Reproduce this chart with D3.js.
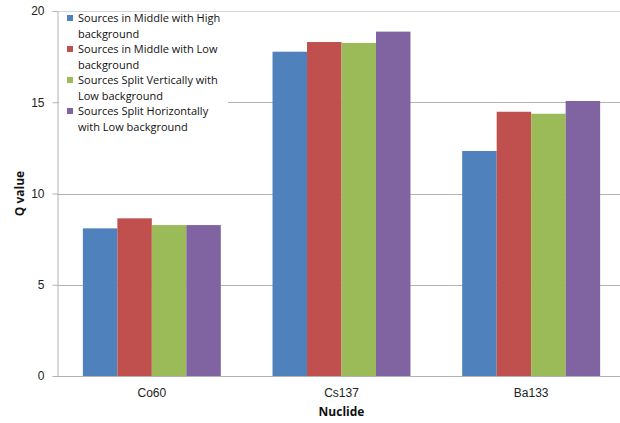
<!DOCTYPE html>
<html>
<head>
<meta charset="utf-8">
<script src="https://cdn.jsdelivr.net/npm/d3@7/dist/d3.min.js"></script>
<style>
  html, body { margin: 0; padding: 0; background: #fff; }
  svg { display: block; }
</style>
</head>
<body>
<svg id="chart" width="620" height="423"></svg>
<script>
// Nuclide categories and Q values for each measurement setup
const nuclides = ["Co60", "Cs137", "Ba133"];
const seriesNames = [
  ["Sources in Middle with High", "background"],
  ["Sources in Middle with Low", "background"],
  ["Sources Split Vertically with", "Low background"],
  ["Sources Split Horizontally", "with Low background"]
];
const middleHigh = [8.09, 17.77, 12.33];
const middleLow = [8.64, 18.30, 14.48];
const splitVertical = [8.27, 18.25, 14.37];
const splitHorizontal = [8.27, 18.87, 15.07];
const yTicks = [0, 5, 10, 15, 20];
const colors = ["#4F81BD", "#C0504D", "#9BBB59", "#8064A2"];

const seriesValues = [middleHigh, middleLow, splitVertical, splitHorizontal];

const svg = d3.select("#chart");
const margin = { left: 57, top: 11, bottom: 47 };
const plotRight = 626; // plot area runs slightly past the canvas edge
const H = 423;

const x0 = d3.scaleBand()
  .domain(nuclides)
  .range([margin.left, plotRight])
  .paddingInner(1.5 / 5.5)
  .paddingOuter(0.75 / 5.5);

const x1 = d3.scaleBand()
  .domain(d3.range(seriesValues.length))
  .range([0, x0.bandwidth()]);

const y = d3.scaleLinear().domain([0, 20]).range([H - margin.bottom, margin.top]);

// horizontal gridlines
svg.append("g")
  .selectAll("line")
  .data(yTicks.filter(t => t > 0))
  .join("line")
  .attr("x1", margin.left)
  .attr("x2", plotRight)
  .attr("y1", d => Math.round(y(d)) + 0.5)
  .attr("y2", d => Math.round(y(d)) + 0.5)
  .attr("stroke", d => d === 20 ? "#d4d4d4" : "#b3b3b3")
  .attr("stroke-width", 1);

// bars
const groups = svg.append("g")
  .selectAll("g")
  .data(nuclides)
  .join("g")
  .attr("transform", d => `translate(${x0(d)},0)`);

groups.selectAll("rect")
  .data((d, i) => seriesValues.map((vals, s) => ({ s, v: vals[i] })))
  .join("rect")
  .attr("x", d => x1(d.s))
  .attr("width", x1.bandwidth())
  .attr("y", d => y(d.v))
  .attr("height", d => y(0) - y(d.v))
  .attr("fill", d => colors[d.s]);

// y axis
const yAxis = svg.append("g")
  .attr("transform", `translate(${margin.left + 0.5},0)`)
  .call(d3.axisLeft(y).tickValues(yTicks).tickSize(5).tickSizeOuter(0).tickPadding(8));
yAxis.select(".domain").attr("stroke", "#b3b3b3");
yAxis.selectAll(".tick line").attr("stroke", "#b3b3b3");
yAxis.selectAll(".tick text")
  .attr("font-family", "Liberation Sans, Arial, sans-serif")
  .attr("font-size", 12)
  .attr("fill", "#222");

// x axis baseline and labels
const xAxis = svg.append("g")
  .attr("transform", `translate(0,${Math.round(y(0)) + 0.5})`)
  .call(d3.axisBottom(x0).tickSize(0).tickPadding(12));
xAxis.select(".domain").attr("stroke", "#b3b3b3").attr("d", `M${margin.left},0H${plotRight}`);
xAxis.selectAll(".tick text")
  .attr("font-family", "Liberation Sans, Arial, sans-serif")
  .attr("font-size", 12)
  .attr("fill", "#222");

// axis titles
svg.append("text")
  .attr("x", x0("Cs137") + x0.bandwidth() / 2)
  .attr("y", 416)
  .attr("text-anchor", "middle")
  .attr("font-family", "Open Sans, Liberation Sans, sans-serif")
  .attr("font-weight", "bold")
  .attr("font-size", 12)
  .attr("fill", "#111")
  .text("Nuclide");

svg.append("text")
  .attr("transform", `translate(24,${y(10)}) rotate(-90)`)
  .attr("text-anchor", "middle")
  .attr("font-family", "Open Sans, Liberation Sans, sans-serif")
  .attr("font-weight", "bold")
  .attr("font-size", 12)
  .attr("fill", "#111")
  .text("Q value");

// legend with white backing over the gridlines
const legend = svg.append("g").attr("transform", "translate(59,13)");
legend.append("rect")
  .attr("x", 0).attr("y", 0)
  .attr("width", 169).attr("height", 126)
  .attr("fill", "#fff");

const entry = legend.selectAll("g.entry")
  .data(seriesNames)
  .join("g")
  .attr("class", "entry")
  .attr("transform", (d, i) => `translate(0,${i * 31})`);

entry.append("rect")
  .attr("x", 8).attr("y", 2)
  .attr("width", 6).attr("height", 6)
  .attr("fill", (d, i) => colors[i]);

entry.append("text")
  .attr("font-family", "Open Sans, Liberation Sans, sans-serif")
  .attr("font-size", 11)
  .attr("fill", "#111")
  .selectAll("tspan")
  .data(d => d)
  .join("tspan")
  .attr("x", 19)
  .attr("y", (d, j) => 9 + j * 15.5)
  .text(d => d);
</script>
</body>
</html>
